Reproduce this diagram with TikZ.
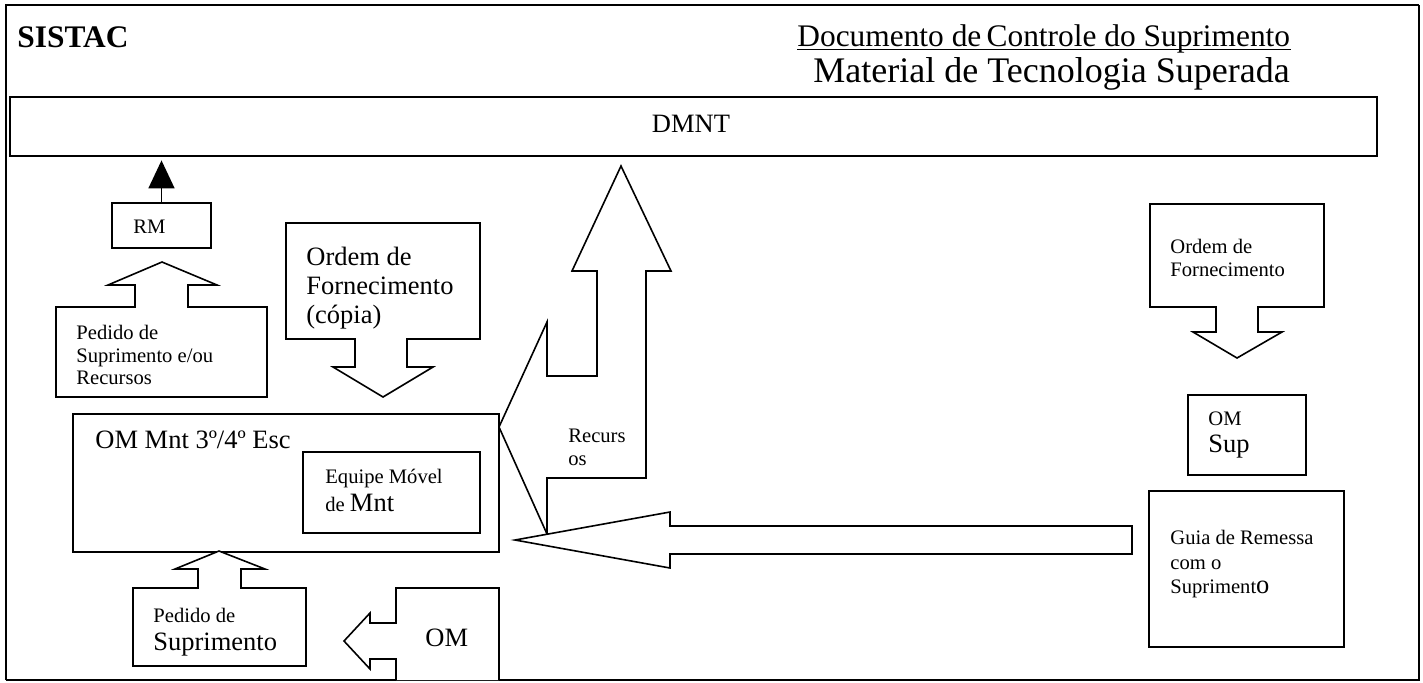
\documentclass[tikz,border=0pt]{standalone}
\usepackage{fontspec}
\setmainfont{Liberation Serif}
\usetikzlibrary{arrows.meta, fit}
\newcommand\smallf{\fontsize{10.3}{11.25}\selectfont}
\newcommand\medf{\fontsize{13.25}{14.5}\selectfont}
\tikzset{
    >=Triangle,
    % Shapes
    box/.style={draw, line width=1pt, inner sep=0pt},
    callout/.style={draw, line width=0.8pt, fill=white, line join=miter},
    % Texts
    txtS/.style={font=\smallf, inner sep=0pt, anchor=north west, align=left},
    txtM/.style={font=\medf, inner sep=0pt, anchor=north west, align=left},
    txtMix/.style={font=\fontsize{10.3}{13.9}\selectfont, inner sep=0pt, anchor=north west, align=left}
}

\begin{document}
\begin{tikzpicture}[x=0.5pt, y=-0.5pt]
\useasboundingbox (0,0) rectangle (1423,682);

% frame
\draw[line width=1.3pt] (6,680) -- (6,5) -- (1419,5);
\draw[line width=0.8pt] (1419,5) -- (1419,680) -- (6,680);

% header
\node[font=\fontsize{15.7}{18}\selectfont\bfseries, inner sep=0pt, anchor=base west] (sistac) at (17,47) {SISTAC};
\node[font=\fontsize{15.7}{18}\selectfont, inner sep=0pt, anchor=base west] (titA) at (797,46) {Documento de\,Controle do Suprimento};
\draw[line width=0.6pt] ([yshift=-1.8pt]titA.base west) -- ([yshift=-1.8pt]titA.base east);
\node[font=\fontsize{18}{20}\selectfont, inner sep=0pt, anchor=base west] (titB) at (813,82) {Material de Tecnologia Superada};

% boxes
\node[box, line width=1.4pt, fit={(10,97) (1377,156)}] (dmnt) {};
\node[box, fit={(112,203) (211,248)}] (rm) {};
\node[box, fit={(73,414) (499,552)}] (mnt) {};
\node[box, fit={(303,452) (480,533)}] (equipe) {};
\node[box, fit={(1188,395) (1306,475)}] (omsup) {};
\node[box, fit={(1149,491) (1344,647)}] (guia) {};

\draw[line width=0.8pt, -{Triangle[length=14pt, width=13pt]}, shorten >=1.5pt] (rm.north) -- (rm.north |- dmnt.south);

% block arrows
\draw[callout] (56,397) -- (56,307) -- (135,307) -- (135,285) -- (108,285) -- (162,262)
    -- (217,285) -- (188,285) -- (188,307) -- (267,307) -- (267,397) -- cycle;
\draw[callout] (286,223) -- (480,223) -- (480,339) -- (407,339) -- (407,367) -- (433,367)
    -- (383,397) -- (333,367) -- (355,367) -- (355,339) -- (286,339) -- cycle;
\draw[callout] (1150,204) -- (1324,204) -- (1324,307) -- (1258,307) -- (1258,332) -- (1282,332)
    -- (1237,358) -- (1193,332) -- (1216,332) -- (1216,307) -- (1150,307) -- cycle;
\draw[callout] (133,666) -- (133,588) -- (198,588) -- (198,569) -- (175,569) -- (219,551)
    -- (265,569) -- (241,569) -- (241,588) -- (306,588) -- (306,666) -- cycle;
\draw[callout] (499,680) -- (499,588) -- (396,588) -- (396,623) -- (370,623) -- (370,613)
    -- (344,641) -- (370,669) -- (370,659) -- (396,659) -- (396,680);
\draw[callout] (547,534) -- (547,478) -- (646,478) -- (646,271) -- (671,271) -- (621,166)
    -- (572,271) -- (597,271) -- (597,376) -- (547,376) -- (547,322) -- (499,427) -- cycle;
\draw[callout] (1132,526) -- (670,526) -- (670,512) -- (515,540) -- (670,568) -- (670,554)
    -- (1132,554) -- cycle;

% texts
\node[txtM, anchor=base] (dmntT) at (691,132) {DMNT};
\node[txtS, anchor=base west] (rmT) at (133,233) {RM};
\node[txtS] (pedRecT) at (76,325) {Pedido de\\Suprimento e/ou\\Recursos};
\node[txtM] (ordCopT) at (306,247) {Ordem de\\Fornecimento\\(cópia)};
\node[txtM, anchor=base west] (mntT) at (95,448) {OM Mnt 3º/4º Esc};
\node[txtMix] (equipeT) at (325,469) {Equipe Móvel\\de {\medf Mnt}};
\node[txtMix] (pedSupT) at (153,608) {Pedido de\\{\medf Suprimento}};
\node[txtM, anchor=base west] (omT) at (425,646) {OM};
\node[txtS] (recT) at (568,429) {Recurs\\os};
\node[txtS] (ordT) at (1170,239) {Ordem de\\Fornecimento};
\node[txtMix] (omsupT) at (1208,411) {OM\\{\medf Sup}};
\node[txtS, font=\fontsize{10.3}{12.3}\selectfont] (guiaT) at (1170,530) {Guia de Remessa\\com o\\Supriment{\medf o}};

\end{tikzpicture}
\end{document}
